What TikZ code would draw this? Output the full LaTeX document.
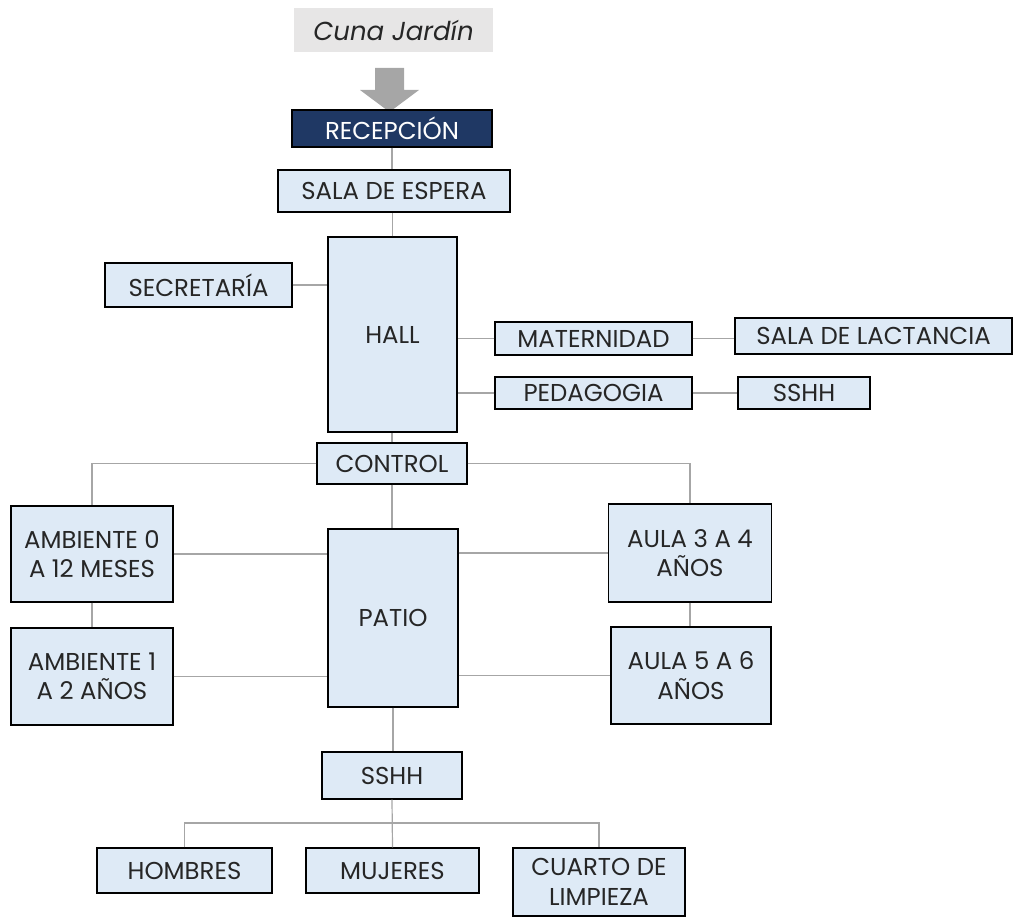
\documentclass[tikz,border=0pt]{standalone}
\usepackage{fontspec}
\setmainfont{Poppins}
\definecolor{boxfill}{HTML}{DEEAF6}
\definecolor{navy}{HTML}{1F3864}
\definecolor{linegray}{HTML}{A6A6A6}
\definecolor{labelgray}{HTML}{E7E6E6}
\definecolor{ink}{HTML}{262626}
\tikzset{
    room/.style={rectangle, draw=black, line width=1.1pt, fill=boxfill, text=ink,
        inner sep=0pt, align=center, font=\fontsize{18.3}{22}\selectfont},
    link/.style={draw=linegray, line width=0.9pt},
}
\begin{document}
\begin{tikzpicture}[x=0.75pt, y=-0.75pt]
            \useasboundingbox (0,0) rectangle (1014,920);

            % title and arrow
            \node[fill=labelgray, minimum width=199*0.75pt, minimum height=44*0.75pt, inner sep=0pt,
                text=ink, font=\fontsize{19.5}{22}\selectfont\itshape] (cuna) at (393.5,30) {Cuna Jardín};
            \fill[linegray] (375,68) -- (404,68) -- (404,90) -- (419,90) -- (389.5,112)
                -- (360,90) -- (375,90) -- cycle;

            \begin{scope}[every node/.style={room}]

                \node[fill=navy, text=white, minimum width=200*0.75pt, minimum height=37*0.75pt]
                    (recep) at (392,128.5) {RECEPCIÓN};
                \node[minimum width=232*0.75pt, minimum height=42*0.75pt] (sala) at (394,191) {SALA DE ESPERA};
                \node[minimum width=129*0.75pt, minimum height=195*0.75pt] (hall) at (392.5,334.5) {HALL};
                \node[minimum width=187*0.75pt, minimum height=44*0.75pt] (secre) at (198.5,285) {SECRETARÍA};

                \node[minimum width=197*0.75pt, minimum height=33*0.75pt] (mat) at (593.5,338.5) {MATERNIDAD};
                \node[minimum width=277*0.75pt, minimum height=36*0.75pt] (lact) at (873.5,336) {SALA DE LACTANCIA};
                \node[minimum width=197*0.75pt, minimum height=32*0.75pt] (ped) at (593.5,393) {PEDAGOGIA};
                \node[minimum width=132*0.75pt, minimum height=32*0.75pt] (sshha) at (804,393) {SSHH};

                \node[minimum width=150*0.75pt, minimum height=41*0.75pt] (control) at (392,463.5) {CONTROL};
                \node[minimum width=130*0.75pt, minimum height=178*0.75pt] (patio) at (393,618) {PATIO};

                \node[minimum width=162*0.75pt, minimum height=96*0.75pt] (amb0) at (92,554) {AMBIENTE 0\\A 12 MESES};
                \node[minimum width=162*0.75pt, minimum height=97*0.75pt] (amb1) at (92,676.5) {AMBIENTE 1\\A 2 AÑOS};
                \node[minimum width=163*0.75pt, minimum height=98*0.75pt] (aula3) at (690,553) {AULA 3 A 4\\AÑOS};
                \node[minimum width=160*0.75pt, minimum height=97*0.75pt] (aula5) at (691,675.5) {AULA 5 A 6\\AÑOS};

                \node[minimum width=140*0.75pt, minimum height=47*0.75pt] (sshhb) at (392,775.5) {SSHH};
                \node[minimum width=175*0.75pt, minimum height=45*0.75pt] (hombres) at (184.5,870.5) {HOMBRES};
                \node[minimum width=173*0.75pt, minimum height=45*0.75pt] (mujeres) at (392.5,870.5) {MUJERES};
                \node[minimum width=172*0.75pt, minimum height=68*0.75pt] (limpieza) at (599,882) {CUARTO DE\\LIMPIEZA};

            \end{scope}

            \coordinate (bus) at (392,823);

            \path[link] (recep.south) edge (recep.south |- sala.north);
            \path[link] (hall.north) edge (hall.north |- sala.south);
            \path[link] (secre) edge (secre -| hall.west);
            \path[link] (mat.west) edge (mat.west -| hall.east);
            \path[link] (mat.east) edge (mat.east -| lact.west);
            \path[link] (ped.west) edge (ped.west -| hall.east);
            \path[link] (ped.east) edge (sshha.west);
            \path[link] (control.north) edge (control.north |- hall.south);
            \path[link] (control.south) edge (control.south |- patio.north);

            \draw[link] (control.west) -| (amb0.north);
            \draw[link] (control.east) -| (aula3.north);
            \path[link] (amb0.south) edge (amb1.north);
            \path[link] (aula3.south) edge (aula3.south |- aula5.north);
            \path[link] (amb0.east) edge (amb0.east -| patio.west);
            \path[link] (amb1.east) edge (amb1.east -| patio.west);
            \path[link] (patio.east |- aula3) edge (aula3.west);
            \path[link] (patio.east |- aula5) edge (aula5.west);

            \path[link] (patio.south) edge (patio.south |- sshhb.north);
            \draw[link] (sshhb.south) -- (mujeres.north);
            \draw[link] (hombres.north) |- (bus) -| (limpieza.north);

        \end{tikzpicture}
\end{document}
